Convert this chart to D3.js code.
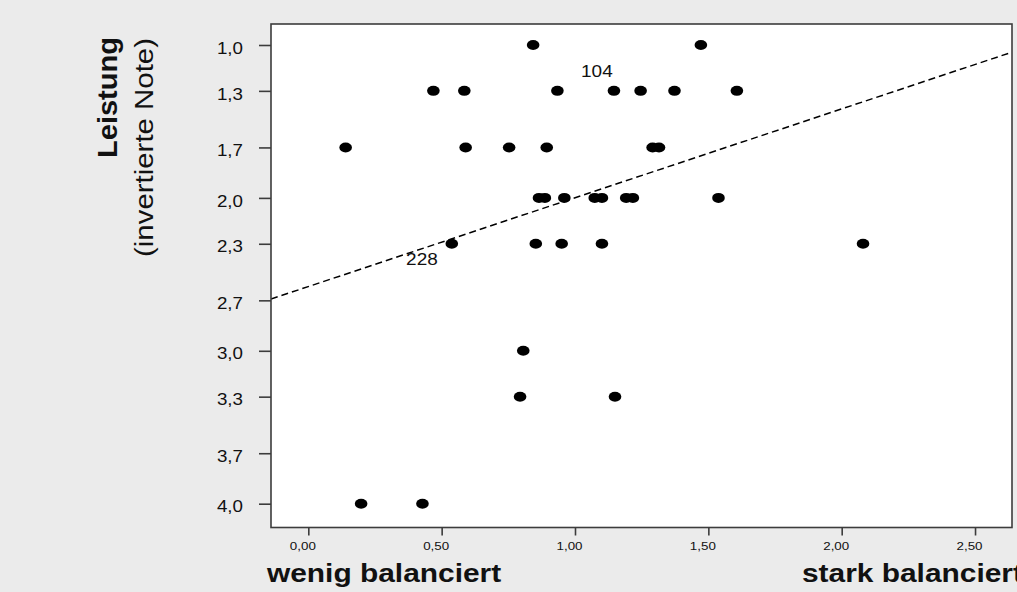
<!DOCTYPE html>
<html>
<head>
<meta charset="utf-8">
<script src="https://cdn.jsdelivr.net/npm/d3@7"></script>
<style>
  html, body { margin: 0; padding: 0; background: #ebebeb; }
  svg { display: block; }
  text { font-family: "Liberation Sans", Arial, sans-serif; fill: #111; }
</style>
</head>
<body>
<svg id="chart" width="1017" height="592"></svg>
<script>
// ---- data ----
const balanceValues = [
  0.843, 1.472,
  0.469, 0.585, 0.934, 1.146, 1.246, 1.373, 1.607,
  0.140, 0.590, 0.753, 0.894, 1.291, 1.315,
  0.865, 0.887, 0.960, 1.074, 1.101, 1.192, 1.217, 1.538,
  0.538, 0.853, 0.950, 1.101, 2.080,
  0.806,
  0.794, 1.150,
  0.198, 0.428
];
const gradeValues = [
  1.0, 1.0,
  1.3, 1.3, 1.3, 1.3, 1.3, 1.3, 1.3,
  1.67, 1.67, 1.67, 1.67, 1.67, 1.67,
  2.0, 2.0, 2.0, 2.0, 2.0, 2.0, 2.0, 2.0,
  2.3, 2.3, 2.3, 2.3, 2.3,
  3.0,
  3.3, 3.3,
  4.0, 4.0
];
const yTickValues = [1.0, 1.3, 1.67, 2.0, 2.3, 2.67, 3.0, 3.3, 3.67, 4.0];
const yTickLabels = ["1,0", "1,3", "1,7", "2,0", "2,3", "2,7", "3,0", "3,3", "3,7", "4,0"];
const xTickValues = [0, 0.5, 1.0, 1.5, 2.0, 2.5];
const xTickLabels = ["0,00", "0,50", "1,00", "1,50", "2,00", "2,50"];
const fitIntercept = 2.580;
const fitSlope = -0.581;
const pointLabels = ["228", "104"];
const pointLabelX = [0.426, 1.082];
const pointLabelY = [2.439, 1.207];
const xDomain = [-0.1399, 2.6386];
const yDomain = [0.8627, 4.1557];

// ---- layout ----
const plot = { left: 271, top: 24, right: 1012, bottom: 527.5 };
const SX = 1.15; // horizontal glyph stretch
const svg = d3.select("#chart");

const x = d3.scaleLinear().domain(xDomain).range([plot.left, plot.right]);
const y = d3.scaleLinear().domain(yDomain).range([plot.top, plot.bottom]);

// plot area
svg.append("rect")
  .attr("x", plot.left).attr("y", plot.top)
  .attr("width", plot.right - plot.left).attr("height", plot.bottom - plot.top)
  .attr("fill", "#ffffff");

svg.append("clipPath").attr("id", "clip")
  .append("rect")
  .attr("x", plot.left).attr("y", plot.top)
  .attr("width", plot.right - plot.left).attr("height", plot.bottom - plot.top);

// regression line
const fit = v => fitIntercept + fitSlope * v;
svg.append("line")
  .attr("clip-path", "url(#clip)")
  .attr("x1", x(xDomain[0])).attr("y1", y(fit(xDomain[0])))
  .attr("x2", x(xDomain[1])).attr("y2", y(fit(xDomain[1])))
  .attr("stroke", "#000").attr("stroke-width", 1.5)
  .attr("stroke-dasharray", "7,4");

// points
const pts = balanceValues.map((v, i) => ({ x: v, y: gradeValues[i] }));
svg.append("g").selectAll("ellipse").data(pts).join("ellipse")
  .attr("cx", d => x(d.x)).attr("cy", d => y(d.y))
  .attr("rx", 6.3).attr("ry", 5)
  .attr("fill", "#000");

// point labels
svg.append("g").selectAll("text").data(pointLabels).join("text")
  .attr("text-anchor", "middle")
  .attr("font-size", 16.5)
  .attr("transform", (d, i) => `translate(${x(pointLabelX[i])},${y(pointLabelY[i])}) scale(${SX},1)`)
  .text(d => d);

// frame
svg.append("rect")
  .attr("x", plot.left).attr("y", plot.top)
  .attr("width", plot.right - plot.left).attr("height", plot.bottom - plot.top)
  .attr("fill", "none").attr("stroke", "#3c3c3c").attr("stroke-width", 1.6);

// y axis
const yAxis = svg.append("g").attr("transform", `translate(${plot.left},0)`)
  .call(d3.axisLeft(y).tickValues(yTickValues)
    .tickFormat((d, i) => yTickLabels[i]).tickSize(12).tickSizeOuter(0));
yAxis.select(".domain").remove();
yAxis.selectAll(".tick line").attr("stroke", "#3c3c3c").attr("stroke-width", 1.6);
yAxis.selectAll(".tick text")
  .attr("font-family", "Liberation Sans, Arial, sans-serif")
  .attr("font-size", 16.3).attr("fill", "#111")
  .attr("x", -28 / SX).attr("dy", "0.5em")
  .attr("transform", `scale(${SX},1)`);

// x axis
const xAxis = svg.append("g").attr("transform", `translate(0,${plot.bottom})`)
  .call(d3.axisBottom(x).tickValues(xTickValues)
    .tickFormat((d, i) => xTickLabels[i]).tickSize(8).tickSizeOuter(0));
xAxis.select(".domain").remove();
xAxis.selectAll(".tick line").attr("stroke", "#3c3c3c").attr("stroke-width", 1.6);
xAxis.selectAll(".tick text")
  .attr("font-family", "Liberation Sans, Arial, sans-serif")
  .attr("font-size", 11.6).attr("fill", "#222")
  .attr("x", -6 / SX).attr("y", 22.5).attr("dy", 0)
  .attr("transform", `scale(${SX},1)`);

// x axis titles
svg.append("text")
  .attr("font-size", 26).attr("font-weight", "bold")
  .attr("transform", `translate(267,582) scale(${SX},1)`)
  .text("wenig balanciert");
svg.append("text")
  .attr("font-size", 26).attr("font-weight", "bold")
  .attr("transform", `translate(802,582) scale(${SX},1)`)
  .text("stark balanciert");

// y axis title
svg.append("text")
  .attr("font-size", 27).attr("font-weight", "bold")
  .attr("text-anchor", "end")
  .attr("transform", `translate(117,37) rotate(-90)`)
  .attr("textLength", 121).attr("lengthAdjust", "spacingAndGlyphs")
  .text("Leistung");
svg.append("text")
  .attr("font-size", 25)
  .attr("text-anchor", "end")
  .attr("transform", `translate(153,38) rotate(-90)`)
  .attr("textLength", 219).attr("lengthAdjust", "spacingAndGlyphs")
  .text("(invertierte Note)");
</script>
</body>
</html>
